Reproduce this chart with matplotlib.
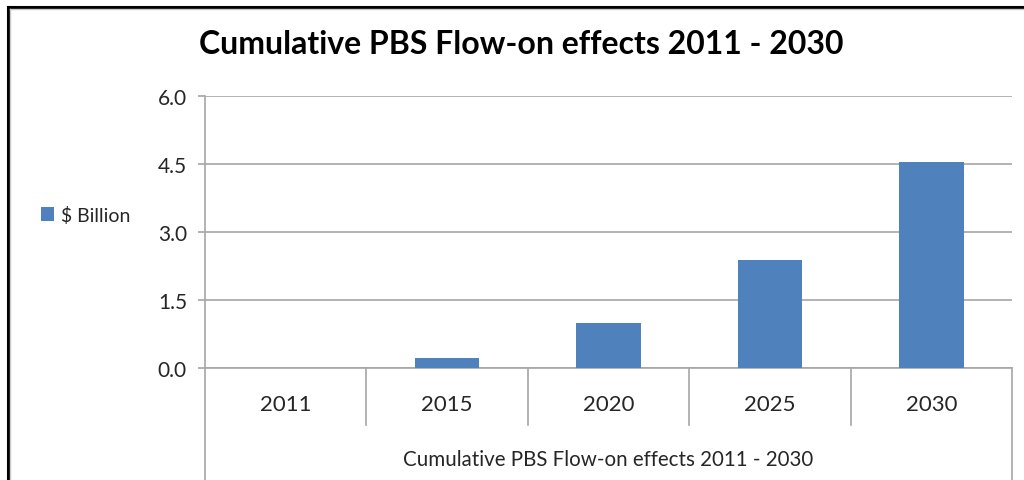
import matplotlib
matplotlib.use("Agg")
import matplotlib.pyplot as plt
from matplotlib.lines import Line2D
import matplotlib.transforms as mtransforms

plt.rcParams['font.family'] = ['Lato', 'DejaVu Sans']

years = ["2011", "2015", "2020", "2025", "2030"]
billions = [0.0, 0.22, 1.0, 2.38, 4.55]
yticks = [0.0, 1.5, 3.0, 4.5, 6.0]

BAR = "#4f81bd"
GRID = "#a6a6a6"
TXT = "#262626"

W, H = 1024, 481
fig = plt.figure(figsize=(W / 100, H / 100), dpi=100)
fig.patch.set_facecolor("white")

# plot area in pixels: x 205..1012, y 97..369
L, R, T, B = 205, 1012, 97, 369
ax = fig.add_axes([L / W, 1 - B / H, (R - L) / W, (B - T) / H])

xs = list(range(len(years)))
bars = ax.bar(xs, billions, width=0.4, color=BAR, label="$ Billion", zorder=3)

ax.set_xlim(-0.5, len(years) - 0.5)
ax.set_ylim(0, 6)
ax.set_yticks(yticks)
ax.set_yticklabels([f"{v:.1f}" for v in yticks])
ax.yaxis.grid(True, color=GRID, lw=1.2, zorder=0)
ax.set_axisbelow(True)

for s in ("top", "right"):
    ax.spines[s].set_visible(False)
for s in ("left", "bottom"):
    ax.spines[s].set_color(GRID)
    ax.spines[s].set_linewidth(1.2)

ax.tick_params(axis="y", length=5, width=1.2, color=GRID, labelsize=15,
               labelcolor=TXT, pad=8)
ax.set_xticks(xs)
ax.set_xticklabels(years)
ax.tick_params(axis="x", length=0, labelsize=16, labelcolor=TXT, pad=19)

# category separators (table-like axis)
trans = mtransforms.blended_transform_factory(ax.transData, ax.transAxes)
hpx = B - T
for i in range(len(years) + 1):
    xb = i - 0.5
    low = -(H - B) / hpx if i in (0, len(years)) else -57 / hpx
    ax.add_line(Line2D([xb, xb], [0, low], transform=trans, color=GRID,
                       lw=1.2, clip_on=False))

ax.text(0.5, -(460 - B) / hpx, "Cumulative PBS Flow-on effects 2011 - 2030",
        transform=ax.transAxes, ha="center", va="center", fontsize=14.8,
        color=TXT)

# legend on the left
ax.legend(loc="center left", bbox_to_anchor=(23 / W, 1 - 216 / H),
          bbox_transform=fig.transFigure, frameon=False, fontsize=14,
          handlelength=0.7, handleheight=0.7, handletextpad=0.35,
          labelcolor=TXT)

fig.text(521 / W, 1 - 45 / H, "Cumulative PBS Flow-on effects 2011 - 2030",
         ha="center", va="center", fontsize=23, fontweight="bold",
         color="black")

# outer frame of the embedded chart
fig.add_artist(Line2D([7.5 / W, 7.5 / W], [0, 1 - 7.5 / H], color="black",
                      lw=2.2, transform=fig.transFigure))
fig.add_artist(Line2D([7.5 / W, 1], [1 - 7.5 / H, 1 - 7.5 / H], color="black",
                      lw=2.2, transform=fig.transFigure))
fig.add_artist(Line2D([10 / W, 10 / W], [0, 1 - 10 / H], color="#c8c8c8",
                      lw=1.0, transform=fig.transFigure))
fig.add_artist(Line2D([10 / W, 1], [1 - 10 / H, 1 - 10 / H], color="#c8c8c8",
                      lw=1.0, transform=fig.transFigure))

fig.savefig("out.png", dpi=100, facecolor="white")
